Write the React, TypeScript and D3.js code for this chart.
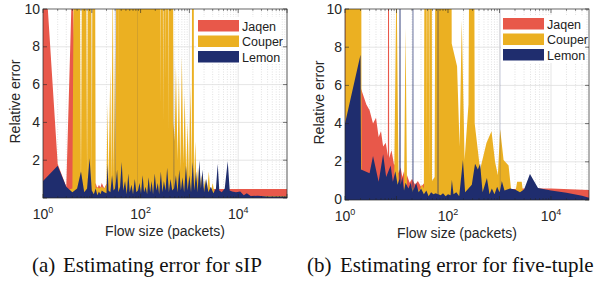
import React from 'react';
import * as d3 from 'd3';

type Pt = [number, number];

const SERIES = ['Jaqen', 'Couper', 'Lemon'];
const COLORS: Record<string, string> = {
  Jaqen: '#E8584A',
  Couper: '#EBB022',
  Lemon: '#1F2D6E',
};

// (a) sIP: [flow size, relative error]
const jaqenSip: Pt[] = [
  [1, 14], [2, 1.8], [3, 0.6], [4, 12], [5, 1.5], [6, 1.3], [7, 1.2], [8, 1.0], [9, 1.2], [10, 0.8],
  [11, 0.6], [12, 0.8], [13, 0.5], [14, 0.7], [15, 0.55], [16, 0.8], [18, 0.5], [20, 0.75], [22, 0.55],
  [25, 0.65], [28, 0.8], [32, 0.6], [40, 0.7], [60, 0.6], [100, 0.7], [200, 0.6], [500, 0.6],
  [1000, 0.55], [2000, 0.5], [3000, 0.47], [100000, 0.47],
];
const couperSip: Pt[] = [
  [1, 0.3], [2, 0.3], [3, 0.4], [4, 0.5], [5, 40], [6, 0.6], [7, 40], [8, 0.7], [9, 40], [10, 0.6],
  [11, 40], [12, 0.5], [13, 0.6], [14, 0.5], [16, 0.6], [18, 0.5], [20, 0.7], [21, 5], [22, 0.6],
  [24, 7], [25, 0.8], [27, 12], [28, 1], [30, 8], [31, 1.2], [33, 40], [35, 40], [36, 6], [37, 40],
  [240, 40], [255, 5], [270, 40], [290, 4], [310, 40], [330, 6], [350, 40], [370, 3.5], [395, 40],
  [445, 40], [470, 4], [500, 3], [530, 7], [570, 2], [610, 6.5], [650, 1.5], [700, 7.5], [750, 1.8],
  [800, 5.5], [860, 1.2], [920, 4], [980, 1], [1050, 6], [1120, 0.9], [1160, 40], [1200, 40],
  [1240, 0.8], [1320, 3], [1400, 0.6], [1500, 1.6], [1600, 0.4], [1750, 1.2], [1900, 0.3],
  [2100, 1.0], [2300, 0.25], [2500, 1.4], [2700, 0.2], [3000, 0.8], [3300, 0.15], [3600, 0.6],
  [4000, 0.1], [100000, 0.1],
];
const lemonSip: Pt[] = [
  [1, 0.9], [2, 1.7], [3, 0.6], [4, 0.3], [5, 0.5], [6, 1.4], [7, 0.3], [8, 0.5], [9, 2.1], [10, 0.4],
  [11, 0.2], [12, 0.5], [13, 0.15], [14, 0.35], [15, 0.2], [16, 0.4], [18, 0.3], [20, 0.25], [21, 1.8],
  [22, 0.4], [24, 0.3], [26, 1.2], [28, 0.4], [29.8, 0.5], [30, 40], [30.2, 0.5], [33, 1.5], [35, 0.3],
  [38, 0.6], [41, 1.9], [44, 0.4], [48, 0.9], [52, 0.2], [56, 1.3], [60, 0.3], [65, 0.7], [70, 0.2],
  [76, 1.0], [82, 0.3], [87.7, 0.4], [88, 40], [88.3, 0.4], [95, 0.8], [102, 0.25], [110, 1.2], [118, 0.3],
  [127, 0.6], [136, 0.2], [146, 1.1], [157, 0.3], [168, 0.9], [180, 0.2], [195, 1.3], [210, 0.4],
  [225, 0.8], [240, 0.2], [260, 1.4], [280, 0.3], [300, 0.9], [325, 0.4], [350, 1.6], [380, 0.3],
  [410, 1.0], [445, 0.4], [478, 0.5], [483, 8.5], [488, 0.5], [530, 1.2], [570, 0.3], [620, 1.5],
  [670, 0.4], [720, 1.1], [780, 0.3], [850, 1.7], [920, 0.4], [1000, 1.2], [1080, 0.3], [1170, 1.9],
  [1260, 0.4], [1370, 1.4], [1480, 0.3], [1600, 2.0], [1720, 0.5], [1850, 1.5], [2000, 0.3],
  [2200, 1.0], [2450, 0.3], [2750, 0.6], [3100, 0.25], [3500, 0.5], [3800, 1.8], [4100, 0.4],
  [4600, 0.3], [5300, 0.5], [6100, 1.95], [6700, 0.4], [7500, 0.35], [9000, 0.3], [11000, 0.35],
  [13000, 0.15], [15000, 0.25], [18000, 0.1], [25000, 0.12], [40000, 0.08], [100000, 0.08],
];

// (b) five-tuple
const jaqenTuple: Pt[] = [
  [1, 40], [2, 5.9], [2.6, 5.0], [3, 4.7], [3.5, 4.0], [4, 4.3], [4.5, 3.3], [5, 3.6], [5.5, 2.8],
  [6.2, 3.0], [6.8, 2.3], [7, 40], [7.2, 2.2], [8, 2.6], [9, 1.8], [10, 2.1], [11, 1.4], [12, 1.7],
  [13, 1.2], [14, 1.5], [15, 1.0], [16, 1.3], [18, 0.9], [20, 1.1], [23, 0.8], [26, 1.0], [30, 0.7],
  [35, 0.9], [40, 0.6], [60, 0.7], [100, 0.6], [300, 0.55], [1000, 0.55], [3000, 0.6], [10000, 0.6],
  [55000, 0.52],
];
const couperTuple: Pt[] = [
  [1, 0.5], [1.08, 40], [2, 40], [2.1, 1.0], [3, 0.8], [4, 0.9], [5, 0.7], [6, 0.8], [7, 0.6], [8, 0.7],
  [9, 0.8], [10, 12], [11, 0.6], [13, 0.7], [14, 0.5], [15, 9], [16, 0.6], [18, 0.5], [20, 0.7],
  [22, 0.4], [25, 0.6], [28, 0.5], [31, 0.8], [34, 0.6], [37, 40], [39, 3], [41, 40], [43, 0.8],
  [45, 40], [47, 40], [49, 1], [55, 1.2], [61, 40], [112, 40], [118, 8.2], [150, 7], [168, 2.8],
  [185, 9.4], [210, 2.1], [250, 5], [290, 40], [305, 40], [330, 4], [420, 1.6], [560, 3.0], [700, 3.6],
  [820, 2], [930, 1.3], [1030, 3.7], [1200, 2.1], [1500, 1.8], [1700, 0.4], [2000, 0.3], [2200, 0.95],
  [2700, 0.95], [2900, 0.3], [3500, 0.2], [55000, 0.1],
];
const lemonTuple: Pt[] = [
  [1, 4], [2, 7.6], [2.05, 1.6], [3, 1.4], [3.5, 2.3], [4.5, 0.95], [5.5, 2.4], [6.3, 1.2], [7.7, 1.8],
  [8.5, 0.95], [9.5, 1.5], [10.5, 0.8], [11.4, 1.1], [11.7, 40], [12, 0.8], [13, 1.2], [14, 0.5],
  [15, 0.9], [17, 0.6], [19, 0.9], [20.5, 0.4], [20.9, 40], [21.3, 0.5], [24, 0.9], [27, 0.4],
  [30, 0.6], [34, 0.3], [38, 0.5], [42, 0.2], [47, 0.4], [52, 0.3], [58, 0.35], [63, 0.3], [64, 40],
  [65, 0.3], [72, 0.25], [80, 0.35], [90, 0.2], [100, 0.3], [112, 0.25], [119, 1.05], [128, 0.3],
  [145, 0.4], [165, 0.2], [195, 2.1], [215, 0.4], [250, 0.6], [290, 0.8], [335, 1.9], [380, 1.6],
  [420, 1.9], [470, 0.4], [570, 1.15], [640, 0.3], [710, 0.6], [800, 0.3], [900, 0.7], [1000, 0.4],
  [1020, 0.5], [1025, 40], [1030, 0.5], [1110, 1.0], [1250, 0.5], [1600, 0.6], [2000, 0.55],
  [2500, 0.4], [3000, 0.55], [3900, 1.36], [5600, 0.63], [10000, 0.5], [20000, 0.38], [40000, 0.22],
  [55000, 0.12],
];

const yTicks = [0, 2, 4, 6, 8, 10];
const xLabelExps = [0, 2, 4];

const SANS = '"Liberation Sans", Arial, Helvetica, sans-serif';
const SERIF = '"Liberation Serif", "Times New Roman", serif';

interface PanelProps {
  id: string;
  left: number;
  right: number;
  top: number;
  bottom: number;
  xMax: number;
  data: Record<string, Pt[]>;
  showZero: boolean;
  yLabelX: number;
  xLabelX: number;
  legend: { x: number; y: number; w: number; h: number };
  tag: string;
  caption: string;
  tagX: number;
  capX: number;
  capY: number;
}

function Panel(p: PanelProps) {
  const x = d3.scaleLog().domain([1, p.xMax]).range([p.left, p.right]);
  const y = d3.scaleLinear().domain([0, 10]).range([p.bottom, p.top]);
  const area = d3.area<Pt>().x(d => x(d[0])).y0(y(0)).y1(d => y(d[1]));

  const maxExp = Math.floor(Math.log10(p.xMax));
  const majors = d3.range(0, maxExp + 1).map(e => Math.pow(10, e));
  const minors: number[] = [];
  majors.forEach(m => d3.range(2, 10).forEach(k => { if (m * k <= p.xMax) minors.push(m * k); }));

  const lg = p.legend;

  return (
    <g>
      <defs>
        <clipPath id={p.id}>
          <rect x={p.left} y={p.top} width={p.right - p.left} height={p.bottom - p.top} />
        </clipPath>
      </defs>
      {/* grid */}
      {minors.map(v => (
        <line key={'mn' + v} x1={x(v)} x2={x(v)} y1={p.top} y2={p.bottom}
          stroke="#cfcfcf" strokeWidth={0.6} strokeDasharray="1,1.5" />
      ))}
      {majors.slice(1).map(v => (
        <line key={'mj' + v} x1={x(v)} x2={x(v)} y1={p.top} y2={p.bottom} stroke="#dedede" strokeWidth={0.8} />
      ))}
      {yTicks.slice(1, -1).map(t => (
        <line key={'gy' + t} x1={p.left} x2={p.right} y1={y(t)} y2={y(t)} stroke="#dedede" strokeWidth={0.8} />
      ))}
      {/* areas */}
      <g clipPath={`url(#${p.id})`}>
        {SERIES.map(s => (
          <path key={s} d={area(p.data[s]) || ''} fill={COLORS[s]} />
        ))}
      </g>
      {/* legend */}
      <rect x={lg.x} y={lg.y} width={lg.w} height={lg.h} fill="#fff" />
      {SERIES.map((s, i) => (
        <g key={'lg' + s}>
          <rect x={lg.x + 2} y={lg.y + 3 + i * 15.5} width={41} height={11.5} fill={COLORS[s]} />
          <text x={lg.x + 46} y={lg.y + 13.5 + i * 15.5} fontFamily={SANS} fontSize={12.5} fill="#222">{s}</text>
        </g>
      ))}
      {/* box and ticks */}
      <rect x={p.left} y={p.top} width={p.right - p.left} height={p.bottom - p.top}
        fill="none" stroke="#262626" strokeWidth={0.7} />
      {majors.map(v => (
        <g key={'xt' + v}>
          <line x1={x(v)} x2={x(v)} y1={p.bottom} y2={p.bottom - 4} stroke="#262626" strokeWidth={0.6} />
          <line x1={x(v)} x2={x(v)} y1={p.top} y2={p.top + 4} stroke="#262626" strokeWidth={0.6} />
        </g>
      ))}
      {minors.map(v => (
        <g key={'xm' + v}>
          <line x1={x(v)} x2={x(v)} y1={p.bottom} y2={p.bottom - 2} stroke="#262626" strokeWidth={0.5} />
          <line x1={x(v)} x2={x(v)} y1={p.top} y2={p.top + 2} stroke="#262626" strokeWidth={0.5} />
        </g>
      ))}
      {yTicks.map(t => (
        <g key={'yt' + t}>
          <line x1={p.left} x2={p.left + 4} y1={y(t)} y2={y(t)} stroke="#262626" strokeWidth={0.6} />
          <line x1={p.right} x2={p.right - 4} y1={y(t)} y2={y(t)} stroke="#262626" strokeWidth={0.6} />
          {(t > 0 || p.showZero) && (
            <text x={p.left - 3} y={y(t) + (t === 0 ? 3.5 : 4.5)} textAnchor="end" fontFamily={SANS}
              fontSize={14} fill="#262626">{t}</text>
          )}
        </g>
      ))}
      {xLabelExps.map(e => (
        <text key={'xl' + e} x={x(Math.pow(10, e))} y={p.bottom + 21} textAnchor="middle"
          fontFamily={SANS} fontSize={14} fill="#262626">
          10<tspan dy={-6} fontSize={9}>{e}</tspan>
        </text>
      ))}
      <text transform={`translate(${p.yLabelX},${(p.top + p.bottom) / 2 - 2}) rotate(-90)`} textAnchor="middle"
        fontFamily={SANS} fontSize={14} fill="#262626">Relative error</text>
      <text x={p.xLabelX} y={p.bottom + 38} textAnchor="middle" fontFamily={SANS} fontSize={14}
        fill="#262626">Flow size (packets)</text>
      <text x={p.tagX} y={p.capY} fontFamily={SERIF} fontSize={21} fill="#111">{p.tag}</text>
      <text x={p.capX} y={p.capY} fontFamily={SERIF} fontSize={21} fill="#111">{p.caption}</text>
    </g>
  );
}

export default function App() {
  return (
    <svg width={595} height={281} style={{ position: 'absolute', left: 0, top: 0, background: '#fff' }}>
      <rect width={595} height={281} fill="#fff" />
      <Panel id="clipA" left={43} right={287} top={9} bottom={198} xMax={100000}
        data={{ Jaqen: jaqenSip, Couper: couperSip, Lemon: lemonSip }} showZero={false}
        yLabelX={20} xLabelX={165} legend={{ x: 196, y: 17, w: 85, h: 47 }}
        tag="(a)" caption="Estimating error for sIP" tagX={32} capX={63} capY={272} />
      <Panel id="clipB" left={345} right={589} top={9} bottom={200} xMax={54700}
        data={{ Jaqen: jaqenTuple, Couper: couperTuple, Lemon: lemonTuple }} showZero={true}
        yLabelX={324} xLabelX={457} legend={{ x: 501, y: 15, w: 85, h: 48 }}
        tag="(b)" caption="Estimating error for five-tuple" tagX={307} capX={340} capY={272} />
    </svg>
  );
}
